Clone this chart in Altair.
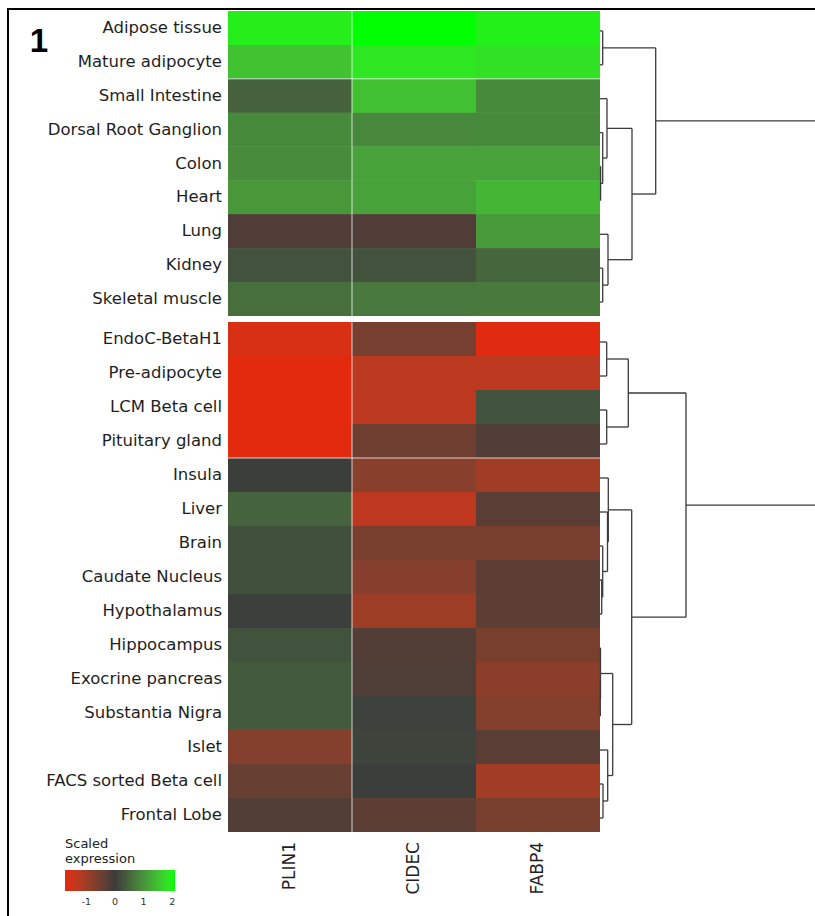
import altair as alt
import pandas as pd

# ---- data -----------------------------------------------------------------
GENES = ["PLIN1", "CIDEC", "FABP4"]

TISSUES_TOP = [
    "Adipose tissue", "Mature adipocyte", "Small Intestine",
    "Dorsal Root Ganglion", "Colon", "Heart", "Lung", "Kidney",
    "Skeletal muscle",
]
TISSUES_BOTTOM = [
    "EndoC-BetaH1", "Pre-adipocyte", "LCM Beta cell", "Pituitary gland",
    "Insula", "Liver", "Brain", "Caudate Nucleus", "Hypothalamus",
    "Hippocampus", "Exocrine pancreas", "Substantia Nigra", "Islet",
    "FACS sorted Beta cell", "Frontal Lobe",
]

# scaled expression, one value per tissue (top block then bottom block)
PLIN1 = [1.93, 1.49, 0.45, 0.90, 0.92, 1.05, -0.20, 0.27, 0.60,
         -1.60, -1.72, -1.72, -1.72, 0.03, 0.48, 0.25, 0.25, 0.05,
         0.28, 0.36, 0.36, -0.73, -0.43, -0.23]
CIDEC = [2.10, 1.85, 1.47, 0.88, 1.15, 1.15, -0.20, 0.27, 0.70,
         -0.58, -1.30, -1.32, -0.50, -0.77, -1.33, -0.60, -0.75, -1.00,
         -0.23, -0.19, 0.08, 0.10, 0.04, -0.33]
FABP4 = [1.95, 1.80, 0.90, 0.90, 1.15, 1.35, 1.07, 0.50, 0.72,
         -1.70, -1.32, 0.28, -0.21, -1.05, -0.30, -0.60, -0.33, -0.33,
         -0.60, -0.80, -0.73, -0.30, -1.05, -0.60]

COLOR_DOMAIN = [-1.75, 0, 2.1]
COLOR_RANGE = ["#e6280e", "#3b3b3b", "#00ff00"]
LEGEND_TICKS = [-1, 0, 1, 2]
LEGEND_TITLE = ["Scaled", "expression"]
PANEL_LABEL = "1"

# row dendrograms: (child_a, child_b, merge height); ints are leaf rows,
# "m<k>" refers to the k-th merge of the same list
TOP_MERGES = [
    (0, 1, 2.7), (4, 5, 0.6), (3, "m1", 2.7), (2, "m2", 7.0),
    (7, 8, 2.7), (6, "m4", 8.0), ("m3", "m5", 32.0), ("m0", "m6", 55.7),
]
BOTTOM_MERGES = [
    (0, 1, 6.7), (2, 3, 6.7), ("m0", "m1", 28.3),
    (7, 8, 1.7), (6, "m3", 2.7), (5, "m4", 7.5), (4, "m5", 8.3),
    (10, 11, 0.3), (9, "m7", 0.5), (13, 14, 3.0), (12, "m9", 7.7),
    ("m8", "m10", 12.7), ("m6", "m11", 31.7), ("m2", "m12", 86.0),
]
DENDRO_MAX = 215.0

# ---- tables -----------------------------------------------------------------
tissues = TISSUES_TOP + TISSUES_BOTTOM
values = {"PLIN1": PLIN1, "CIDEC": CIDEC, "FABP4": FABP4}
cells = pd.DataFrame(
    [{"tissue": t, "gene": g, "value": values[g][i],
      "block": "top" if i < len(TISSUES_TOP) else "bottom"}
     for i, t in enumerate(tissues) for g in GENES]
)
top_cells = cells[cells.block == "top"]
bottom_cells = cells[cells.block == "bottom"]


def dendro_segments(merges):
    pos, hgt, rows = {}, {}, []

    def node(c):
        if isinstance(c, int):
            return c + 0.5, 0.0
        return pos[c], hgt[c]

    for k, (a, b, h) in enumerate(merges):
        pa, ha = node(a)
        pb, hb = node(b)
        rows.append({"x": ha, "x2": h, "y": pa, "y2": pa})
        rows.append({"x": hb, "x2": h, "y": pb, "y2": pb})
        rows.append({"x": h, "x2": h, "y": pa, "y2": pb})
        pos[f"m{k}"] = (pa + pb) / 2
        hgt[f"m{k}"] = h
    root = f"m{len(merges) - 1}"
    rows.append({"x": hgt[root], "x2": DENDRO_MAX, "y": pos[root], "y2": pos[root]})
    return pd.DataFrame(rows)


# ---- scales -----------------------------------------------------------------
x_hm = alt.Scale(domain=GENES, range=[228, 600], paddingInner=0, paddingOuter=0)
y_top = alt.Scale(domain=TISSUES_TOP, range=[11, 316], paddingInner=0, paddingOuter=0)
y_bot = alt.Scale(domain=TISSUES_BOTTOM, range=[322, 832], paddingInner=0, paddingOuter=0)
x_den = alt.Scale(domain=[0, DENDRO_MAX], range=[600, 815], nice=False, zero=False)
y_den_top = alt.Scale(domain=[0, len(TISSUES_TOP)], range=[14, 319], nice=False, zero=False)
y_den_bot = alt.Scale(domain=[0, len(TISSUES_BOTTOM)], range=[325, 835], nice=False, zero=False)

color_scale = alt.Scale(domain=COLOR_DOMAIN, range=COLOR_RANGE, interpolate="lab", clamp=True)
legend = alt.Legend(
    type="gradient",
    orient="none", legendX=65, legendY=838, direction="horizontal",
    title=LEGEND_TITLE, titleFont="DejaVu Sans", titleFontSize=13,
    titleFontWeight="normal", titleColor="#222222", titleLineHeight=15,
    titlePadding=4, gradientLength=110, gradientThickness=21,
    gradientStrokeWidth=0, values=LEGEND_TICKS, labelFont="DejaVu Sans",
    labelFontSize=9.5, labelColor="#333333", labelOffset=6,
    labelExpr="'' + datum.value",
)

FONT = "DejaVu Sans"


def heat(df, yscale):
    return alt.Chart(df).mark_rect().encode(
        x=alt.X("gene:N", scale=x_hm, axis=None),
        y=alt.Y("tissue:N", scale=yscale, axis=None),
        color=alt.Color("value:Q", scale=color_scale, legend=legend),
    )


def row_labels(names, yscale):
    return alt.Chart(pd.DataFrame({"tissue": names})).mark_text(
        align="right", baseline="middle", font=FONT, fontSize=16.5, color="#1e1e1e"
    ).encode(
        x=alt.value(222),
        y=alt.Y("tissue:N", scale=yscale, axis=None),
        text="tissue:N",
    )


def dendro(merges, yscale):
    return alt.Chart(dendro_segments(merges)).mark_rule(
        color="#3a3a3a", strokeWidth=1.3
    ).encode(
        x=alt.X("x:Q", scale=x_den, axis=None), x2="x2:Q",
        y=alt.Y("y:Q", scale=yscale, axis=None), y2="y2:Q",
    )


def hsep(name, yscale):
    return alt.Chart(pd.DataFrame({"tissue": [name]})).mark_rule(
        color="white", opacity=0.5, strokeWidth=1.5
    ).encode(
        y=alt.Y("tissue:N", scale=yscale, bandPosition=0, axis=None),
        x=alt.value(228), x2=alt.value(600),
    )


vsep = alt.Chart(pd.DataFrame({"gene": ["CIDEC"]})).mark_rule(
    color="white", opacity=0.5, strokeWidth=1.5
).encode(
    x=alt.X("gene:N", scale=x_hm, bandPosition=0, axis=None),
    y=alt.value(11), y2=alt.value(832),
)

col_labels = alt.Chart(pd.DataFrame({"gene": GENES})).mark_text(
    angle=270, align="right", baseline="middle", font=FONT, fontSize=17,
    color="#1e1e1e",
).encode(
    x=alt.X("gene:N", scale=x_hm, axis=None),
    y=alt.value(842),
    text="gene:N",
)

panel = alt.Chart(pd.DataFrame({"label": [PANEL_LABEL]})).mark_text(
    align="center", baseline="alphabetic", font="Liberation Sans",
    fontSize=33, fontWeight="bold", color="black",
).encode(x=alt.value(39), y=alt.value(52), text="label:N")

frame = alt.Chart(pd.DataFrame({"k": [0]})).mark_rect(
    filled=False, stroke="black", strokeWidth=2
).encode(x=alt.value(8), y=alt.value(9), x2=alt.value(840), y2=alt.value(940))

# cells are painted twice so the anti-aliased joins between rows stay closed
chart = alt.layer(
    frame,
    heat(top_cells, y_top), heat(bottom_cells, y_bot),
    heat(top_cells, y_top), heat(bottom_cells, y_bot),
    hsep("Small Intestine", y_top), hsep("Insula", y_bot), vsep,
    row_labels(TISSUES_TOP, y_top), row_labels(TISSUES_BOTTOM, y_bot),
    dendro(TOP_MERGES, y_den_top), dendro(BOTTOM_MERGES, y_den_bot),
    col_labels, panel,
).resolve_scale(
    x="independent", y="independent"
).properties(
    width=815, height=916, padding=0,
    autosize=alt.AutoSizeParams(type="none"),
    background="white",
).configure_view(stroke=None)

chart.save("out.html", embed_options={"renderer": "svg", "actions": False})
